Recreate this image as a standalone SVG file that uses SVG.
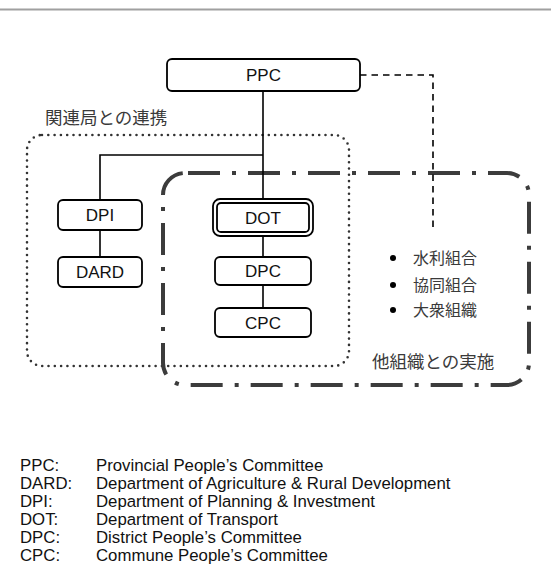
<svg xmlns="http://www.w3.org/2000/svg" width="551" height="570" viewBox="0 0 551 570">
  <style>
    .box { fill: #fff; stroke: #000; stroke-width: 1.8; }
    .lbl { font-family: "Liberation Sans", Arial, sans-serif; font-size: 17px; fill: #111; text-anchor: middle; }
    .wire { stroke: #000; stroke-width: 1.6; fill: none; }
    .jp { font-family: "Noto Sans CJK JP", "Noto Sans", sans-serif; fill: #3a3a3a; }
    .leg { font-family: "Liberation Sans", Arial, sans-serif; font-size: 16.8px; fill: #111; }
  </style>

  <!-- header rule -->
  <line x1="0" y1="9.5" x2="551" y2="9.5" stroke="#a0a0a0" stroke-width="2"/>

  <!-- grouping frames -->
  <g id="frames">
    <rect x="27" y="135" width="322" height="231" rx="15" fill="none" stroke="#333" stroke-width="2.6" stroke-linecap="round" stroke-dasharray="0 6.3"/>
    <path d="M185,173 H507 A22,22 0 0 1 529,195 V363 A22,22 0 0 1 507,385 H185 A22,22 0 0 1 163,363 V195 A22,22 0 0 1 185,173 Z" fill="none" stroke="#3c3c3c" stroke-width="4" stroke-dasharray="32 12 4 12" stroke-dashoffset="-3"/>
    <text class="jp" x="45" y="124" font-size="17.5">関連局との連携</text>
    <text class="jp" x="372" y="368" font-size="17.5">他組織との実施</text>
  </g>

  <!-- connectors -->
  <g id="connectors">
    <path class="wire" d="M263,91 V199"/>
    <path class="wire" d="M100,200 V155 H263"/>
    <path class="wire" d="M100,230 V257"/>
    <path class="wire" d="M263,236 V257"/>
    <path class="wire" d="M263,285 V308"/>
    <path d="M360,75 H433 V232" fill="none" stroke="#000" stroke-width="1.6" stroke-dasharray="6.5 5"/>
  </g>

  <!-- nodes -->
  <g id="ppc">
    <rect class="box" x="167" y="59" width="193" height="32" rx="5"/>
    <text class="lbl" x="263.5" y="81">PPC</text>
  </g>
  <g id="dpi">
    <rect class="box" x="58" y="200" width="84" height="30" rx="5"/>
    <text class="lbl" x="100" y="221">DPI</text>
  </g>
  <g id="dard">
    <rect class="box" x="58" y="257" width="84" height="30" rx="5"/>
    <text class="lbl" x="100" y="278">DARD</text>
  </g>
  <g id="dot">
    <rect class="box" x="213" y="199" width="100" height="37" rx="7"/>
    <rect class="box" x="217" y="203" width="92" height="29" rx="4"/>
    <text class="lbl" x="263" y="224">DOT</text>
  </g>
  <g id="dpc">
    <rect class="box" x="215" y="257" width="96" height="28" rx="5"/>
    <text class="lbl" x="263" y="277">DPC</text>
  </g>
  <g id="cpc">
    <rect class="box" x="215" y="308" width="96" height="29" rx="5"/>
    <text class="lbl" x="263" y="329">CPC</text>
  </g>

  <!-- partner organisations -->
  <g id="partners">
    <circle cx="393" cy="258" r="3"/>
    <circle cx="393" cy="285" r="3"/>
    <circle cx="393" cy="310" r="3"/>
    <text class="jp" x="413" y="264" font-size="16">水利組合</text>
    <text class="jp" x="413" y="291" font-size="16">協同組合</text>
    <text class="jp" x="413" y="316" font-size="16">大衆組織</text>
  </g>

  <!-- abbreviations -->
  <g id="legend" class="leg">
    <text x="20" y="471">PPC:</text><text x="96" y="471">Provincial People’s Committee</text>
    <text x="20" y="489">DARD:</text><text x="96" y="489">Department of Agriculture &amp; Rural Development</text>
    <text x="20" y="507">DPI:</text><text x="96" y="507">Department of Planning &amp; Investment</text>
    <text x="20" y="525">DOT:</text><text x="96" y="525">Department of Transport</text>
    <text x="20" y="543">DPC:</text><text x="96" y="543">District People’s Committee</text>
    <text x="20" y="561">CPC:</text><text x="96" y="561">Commune People’s Committee</text>
  </g>
</svg>
